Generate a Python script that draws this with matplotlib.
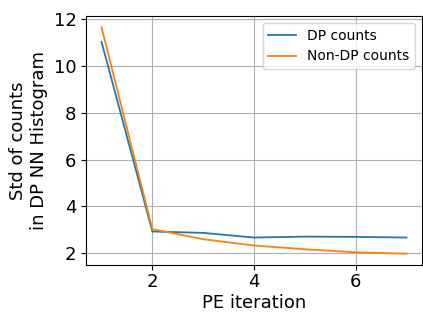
import matplotlib
matplotlib.use("Agg")
import matplotlib.pyplot as plt

iterations = [1, 2, 3, 4, 5, 6, 7]
dp_counts = [11.04, 2.93, 2.87, 2.67, 2.71, 2.70, 2.67]
non_dp_counts = [11.66, 3.03, 2.60, 2.33, 2.17, 2.04, 1.98]

fig = plt.figure(figsize=(4.23, 3.14), dpi=100)
ax = fig.add_axes([0.204, 0.156, 0.793, 0.793])
ax.plot(iterations, dp_counts, color="#1f77b4", linewidth=1.3, label="DP counts")
ax.plot(iterations, non_dp_counts, color="#ff7f0e", linewidth=1.3, label="Non-DP counts")
ax.grid(True, color="#b0b0b0", linewidth=0.8)
ax.set_xticks([2, 4, 6])
ax.set_yticks([2, 4, 6, 8, 10, 12])
ax.tick_params(labelsize=13)
ax.tick_params(axis="x", pad=2.5)
ax.set_xlabel("PE iteration", fontsize=13, labelpad=2)
ax.set_ylabel("Std of counts\nin DP NN Histogram", fontsize=13)
ax.legend(fontsize=10)
fig.savefig("out.png")
